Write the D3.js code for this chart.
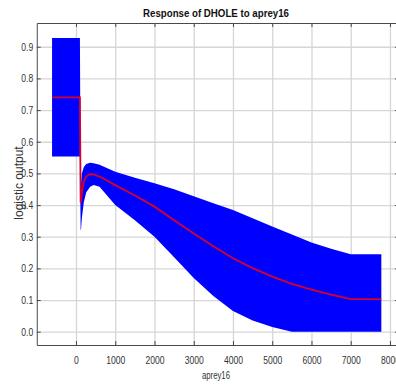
<!DOCTYPE html>
<html lang="en">
<head>
    <meta charset="UTF-8">
    <title>Response of DHOLE to aprey16</title>
    <script src="https://d3js.org/d3.v7.min.js"></script>
    <style>
        body { margin: 0; background: #fff; }
        text { font-family: 'Liberation Sans', Arial, sans-serif; fill: #333; }
        text.title { font-weight: bold; font-size: 11.5px; fill: #111; }
        .grid line { stroke: #d6d6d6; stroke-width: 1.3; }
        .grid path { display: none; }
    </style>
</head>
<body>
<svg height="387" width="396"></svg>
<script>
    // response curve: mean and mean +/- one std dev
    const aprey = [-610, 100, 118, 130, 150, 200, 260, 360, 450, 600, 1000, 1500, 2000, 2500,
                   3000, 3500, 4000, 4500, 5000, 5500, 6000, 6500, 7000, 7780];
    const meanOut = [0.74, 0.74, 0.407, 0.415, 0.44, 0.475, 0.49, 0.498, 0.497, 0.49, 0.463, 0.43, 0.395, 0.352,
                     0.31, 0.27, 0.232, 0.201, 0.174, 0.151, 0.133, 0.117, 0.103, 0.103];
    const upperOut = [0.928, 0.928, 0.44, 0.47, 0.50, 0.52, 0.53, 0.534, 0.532, 0.527, 0.505, 0.486, 0.469, 0.45,
                      0.428, 0.406, 0.384, 0.358, 0.332, 0.307, 0.282, 0.262, 0.245, 0.245];
    const lowerOut = [0.553, 0.553, 0.32, 0.325, 0.36, 0.41, 0.44, 0.458, 0.463, 0.458, 0.40, 0.352, 0.30, 0.235,
                      0.17, 0.113, 0.065, 0.035, 0.015, 0, 0, 0, 0, 0];
    const xTicks = [0, 1000, 2000, 3000, 4000, 5000, 6000, 7000, 8000];
    const yTicks = [0, 0.1, 0.2, 0.3, 0.4, 0.5, 0.6, 0.7, 0.8, 0.9];

    const plotLeft = 36.75, plotRight = 399, plotTop = 23, plotBottom = 345;
    const squeeze = 0.78;

    const x = d3.scaleLinear().domain([-1000, 8230]).range([plotLeft, plotRight]);
    const y = d3.scaleLinear().domain([-0.042, 0.975]).range([plotBottom, plotTop]);

    const svg = d3.select("svg");
    const rows = aprey.map((v, i) => ({x: v, m: meanOut[i], hi: upperOut[i], lo: lowerOut[i]}));

    // grid
    svg.append("g").attr("class", "grid")
        .attr("transform", `translate(0,${plotBottom})`)
        .call(d3.axisBottom(x).tickValues(xTicks).tickSize(-(plotBottom - plotTop)).tickFormat(""));
    svg.append("g").attr("class", "grid")
        .attr("transform", `translate(${plotLeft},0)`)
        .call(d3.axisLeft(y).tickValues(yTicks).tickSize(-(plotRight - plotLeft)).tickFormat(""));

    // std dev band
    svg.append("path").datum(rows)
        .attr("fill", "#0000ff")
        .attr("d", d3.area().x(d => x(d.x)).y0(d => y(d.lo)).y1(d => y(d.hi)));

    // mean line
    svg.append("path").datum(rows)
        .attr("fill", "none")
        .attr("stroke", "#d8002a")
        .attr("stroke-width", 1.8)
        .attr("d", d3.line().x(d => x(d.x)).y(d => y(d.m)));

    // frame ticks
    const frame = (g) => g.style("color", "#4a4a4a");
    svg.append("g").attr("transform", `translate(0,${plotTop})`).call(frame)
        .call(d3.axisTop(x).tickValues(xTicks).tickSize(-4).tickSizeOuter(0).tickFormat(""));
    svg.append("g").attr("transform", `translate(${plotRight},0)`).call(frame)
        .call(d3.axisRight(y).tickValues(yTicks).tickSize(-4).tickSizeOuter(0).tickFormat(""));

    const xAxis = svg.append("g").attr("transform", `translate(0,${plotBottom})`).call(frame)
        .call(d3.axisBottom(x).tickValues(xTicks).tickSize(-4).tickSizeOuter(0).tickPadding(11)
            .tickFormat(d3.format("d")));
    xAxis.selectAll("text")
        .attr("font-size", 11).attr("font-family", null)
        .attr("transform", `scale(${squeeze},1)`);

    const yAxis = svg.append("g").attr("transform", `translate(${plotLeft},0)`).call(frame)
        .call(d3.axisLeft(y).tickValues(yTicks).tickSize(-4).tickSizeOuter(0).tickFormat(d3.format(".1f")));
    yAxis.selectAll("text")
        .attr("font-size", 11).attr("font-family", null)
        .attr("x", -3.5 / squeeze)
        .attr("transform", `scale(${squeeze},1)`);

    // title and axis labels
    svg.append("text").attr("class", "title")
        .attr("x", 216).attr("y", 17)
        .attr("text-anchor", "middle")
        .attr("textLength", 146).attr("lengthAdjust", "spacingAndGlyphs")
        .text("Response of DHOLE to aprey16");
    svg.append("text")
        .attr("x", 216).attr("y", 379)
        .attr("text-anchor", "middle").attr("font-size", 11)
        .attr("textLength", 28).attr("lengthAdjust", "spacingAndGlyphs")
        .text("aprey16");
    svg.append("g")
        .attr("transform", "translate(23,183) rotate(-90)")
        .append("text")
        .attr("text-anchor", "middle").attr("font-size", 12)
        .text("logistic output");
</script>
</body>
</html>
